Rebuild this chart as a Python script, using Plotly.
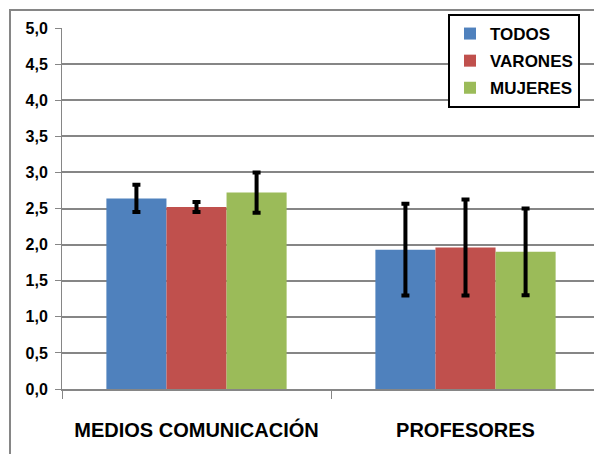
import plotly.graph_objects as go

categories = ["MEDIOS COMUNICACIÓN", "PROFESORES"]
series_names = ["TODOS", "VARONES", "MUJERES"]
todos = [2.64, 1.93]
varones = [2.52, 1.96]
mujeres = [2.72, 1.90]
todos_err = [0.19, 0.635]
varones_err = [0.07, 0.665]
mujeres_err = [0.28, 0.60]
colors = ["#4F81BD", "#C0504D", "#9BBB59"]
y_ticks = [0, 0.5, 1, 1.5, 2, 2.5, 3, 3.5, 4, 4.5, 5]

FONT = "Liberation Sans, Arial, sans-serif"

# page body has an 8px margin: figure drawn at (8, 8) in the window
W, H = 594, 446
L, T = 54, 20
PW, PH = 538, 361

fig = go.Figure()
for name, vals, errs, col in zip(series_names, [todos, varones, mujeres],
                                 [todos_err, varones_err, mujeres_err], colors):
    fig.add_trace(go.Bar(
        x=categories, y=vals, name=name, legendgroup=name,
        marker=dict(color=col, line=dict(width=0)),
        error_y=dict(type="data", array=errs, visible=True, color="black",
                     thickness=4, width=4),
    ))

fig.update_layout(
    width=W, height=H,
    margin=dict(l=L, r=W - L - PW, t=T, b=H - T - PH, autoexpand=False),
    paper_bgcolor="white", plot_bgcolor="white",
    barmode="group", bargap=0.33, bargroupgap=0,
    separators=",.",
    font=dict(family=FONT, color="black"),
    showlegend=True,
    legend=dict(x=440 / W, y=1 - 6 / H, xref="container", yref="container",
                xanchor="left", yanchor="top",
                bordercolor="black", borderwidth=2, bgcolor="white",
                font=dict(size=17, family=FONT, weight="bold"),
                tracegroupgap=2, itemwidth=30),
    xaxis=dict(showline=True, linecolor="#868686", linewidth=2,
               ticks="outside", tickson="boundaries", ticklen=8, tickcolor="#868686",
               tickwidth=1, showgrid=False, automargin=False,
               tickfont=dict(size=20, family=FONT, weight="bold"),
               ticklabelstandoff=22),
    yaxis=dict(range=[0, 5], tickvals=y_ticks, tickformat=".1f",
               showline=True, linecolor="#868686", linewidth=1,
               ticks="outside", ticklen=6, tickcolor="#868686",
               showgrid=True, gridcolor="#868686", gridwidth=2,
               zeroline=False, automargin=False,
               tickfont=dict(size=16, family=FONT, weight="bold"),
               ticklabelstandoff=4),
)

# outer chart border (left and top edges visible in the window)
fig.add_annotation(text=" ", showarrow=False,
                   xref="paper", yref="paper",
                   x=(1 - L) / PW, y=(PH + T - 1) / PH,
                   xanchor="left", yanchor="top",
                   width=660, height=500, borderpad=0,
                   bordercolor="#868686", borderwidth=2, bgcolor="rgba(0,0,0,0)")

fig.write_html("out.html")
